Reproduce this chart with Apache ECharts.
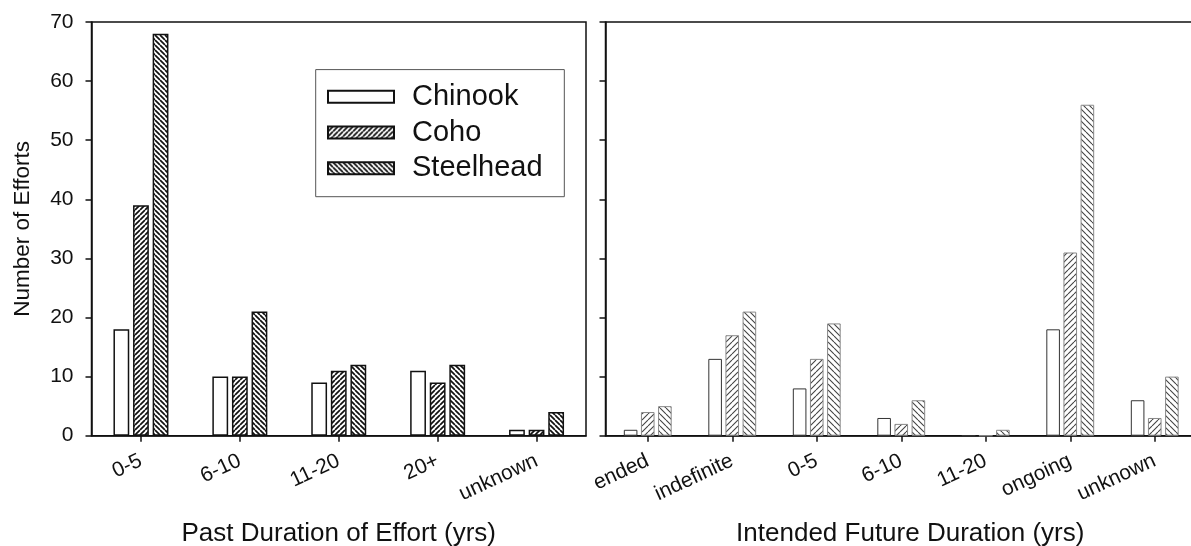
<!DOCTYPE html>
<html>
<head>
<meta charset="utf-8">
<script src="https://cdn.jsdelivr.net/npm/echarts@6/dist/echarts.min.js"></script>
<style>
html,body{margin:0;padding:0;background:#fff;}
#chart{width:1191px;height:546px;}
</style>
</head>
<body>
<div id="chart"></div>
<script>
// ---- data ----
const pastCategories = ['0-5', '6-10', '11-20', '20+', 'unknown'];
const pastChinook = [18, 10, 9, 11, 1];
const pastCoho = [39, 10, 11, 9, 1];
const pastSteelhead = [68, 21, 12, 12, 4];

const futureCategories = ['ended', 'indefinite', '0-5', '6-10', '11-20', 'ongoing', 'unknown'];
const futureChinook = [1, 13, 8, 3, 0, 18, 6];
const futureCoho = [4, 17, 13, 2, 0, 31, 3];
const futureSteelhead = [5, 21, 19, 6, 1, 56, 10];

const seriesNames = ['Chinook', 'Coho', 'Steelhead'];
const yMin = 0, yMax = 70, yInterval = 10;

// ---- hatch patterns ----
function hatch(dir, size, lw, color) {
  const c = document.createElement('canvas');
  c.width = size; c.height = size;
  const g = c.getContext('2d');
  g.fillStyle = '#fff';
  g.fillRect(0, 0, size, size);
  g.strokeStyle = color;
  g.lineWidth = lw;
  g.beginPath();
  for (const o of [-size, 0, size]) {
    if (dir === '/') { g.moveTo(o, size); g.lineTo(o + size, 0); }
    else { g.moveTo(o, 0); g.lineTo(o + size, size); }
  }
  g.stroke();
  return { image: c, repeat: 'repeat' };
}

const FONT = "'Liberation Sans', Arial, sans-serif";
const axisLineStyle = { color: '#111', width: 1.5 };

const chart = echarts.init(document.getElementById('chart'), null, { renderer: 'canvas' });

const leftStyles = [
  { color: '#fff', borderColor: '#111', borderWidth: 1.5 },
  { color: hatch('/', 5, 1.7, '#111'), borderColor: '#111', borderWidth: 1.5 },
  { color: hatch('\\', 5, 1.7, '#111'), borderColor: '#111', borderWidth: 1.5 }
];
const rightStyles = [
  { color: '#fff', borderColor: '#333', borderWidth: 1 },
  { color: hatch('/', 6, 1.1, '#444'), borderColor: '#888', borderWidth: 1 },
  { color: hatch('\\', 6, 1.1, '#444'), borderColor: '#888', borderWidth: 1 }
];
const pastData = [pastChinook, pastCoho, pastSteelhead];
const futureData = [futureChinook, futureCoho, futureSteelhead];

const series = [];
seriesNames.forEach((n, i) => {
  series.push({
    name: n, type: 'bar', xAxisIndex: 0, yAxisIndex: 0,
    data: pastData[i], barWidth: 15.8, barGap: '24%',
    itemStyle: leftStyles[i]
  });
});
seriesNames.forEach((n, i) => {
  series.push({
    name: n, type: 'bar', xAxisIndex: 1, yAxisIndex: 1,
    data: futureData[i], barWidth: 13.6, barGap: '26%',
    itemStyle: rightStyles[i]
  });
});

function xAxis(idx, cats, name, namePad) {
  return {
    type: 'category', gridIndex: idx, data: cats,
    name: name, nameLocation: 'middle', nameGap: 85,
    nameTextStyle: { fontFamily: FONT, fontSize: 26, color: '#111', lineHeight: 26, padding: namePad },
    axisLine: { show: true, lineStyle: axisLineStyle },
    axisTick: { show: true, alignWithLabel: true, interval: 0, length: 6, lineStyle: axisLineStyle },
    axisLabel: { interval: 0, rotate: 25, margin: 24, fontFamily: FONT, fontSize: 21, color: '#111' },
    splitLine: { show: false }
  };
}
function yAxis(idx, showLabels) {
  return {
    type: 'value', gridIndex: idx, min: yMin, max: yMax, interval: yInterval,
    name: showLabels ? 'Number of Efforts' : '',
    nameLocation: 'middle', nameGap: 57, nameRotate: 90,
    nameTextStyle: { fontFamily: FONT, fontSize: 22.5, color: '#111', lineHeight: 22.5 },
    axisLine: { show: true, lineStyle: axisLineStyle },
    axisTick: { show: true, length: 6, lineStyle: axisLineStyle },
    axisLabel: { show: showLabels, margin: 18, fontFamily: FONT, fontSize: 21, color: '#111' },
    splitLine: { show: false }
  };
}

chart.setOption({
  animation: false,
  backgroundColor: '#fff',
  grid: [
    { left: 91.5, width: 494.5, top: 22, height: 413.7, show: true, borderColor: '#111', borderWidth: 1.5, outerBoundsMode: 'none', containLabel: false },
    { left: 605.5, width: 591.5, top: 22, height: 413.7, show: true, borderColor: '#111', borderWidth: 1.5, outerBoundsMode: 'none', containLabel: false }
  ],
  legend: {
    data: seriesNames,
    orient: 'vertical',
    left: 315.7, top: 69.6,
    padding: [12.6, 21.7, 13.9, 11.3],
    borderColor: '#555', borderWidth: 1,
    itemWidth: 66, itemHeight: 12, itemGap: 6.8,
    icon: 'rect',
    selectedMode: false,
    textStyle: { fontFamily: FONT, fontSize: 29, color: '#111', lineHeight: 29, padding: [0, 0, 0, 13] }
  },
  xAxis: [
    xAxis(0, pastCategories, 'Past Duration of Effort (yrs)', [0, 0, 0, 0]),
    xAxis(1, futureCategories, 'Intended Future Duration (yrs)', [0, 0, 0, 18])
  ],
  yAxis: [yAxis(0, true), yAxis(1, false)],
  series: series
});
</script>
</body>
</html>
